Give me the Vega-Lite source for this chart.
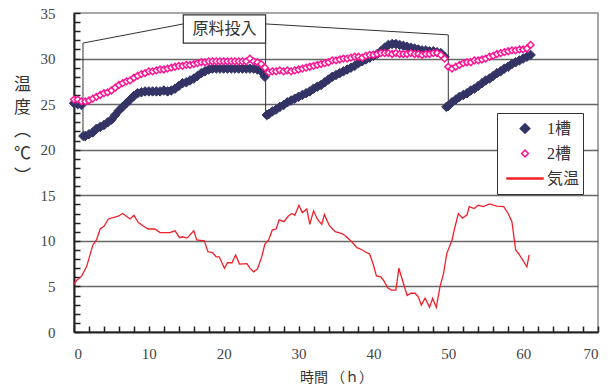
{
  "$schema": "https://vega.github.io/schema/vega-lite/v6.json",
  "width": 524,
  "height": 319,
  "autosize": {"type": "none"},
  "padding": {"left": 74, "top": 13, "right": 15, "bottom": 59},
  "background": "white",
  "config": {
    "view": {"stroke": "#8a8a8a", "strokeWidth": 1.5},
    "axis": {
      "domainColor": "#222",
      "domainWidth": 2,
      "tickColor": "#222",
      "tickWidth": 1.5,
      "labelFont": "Liberation Serif",
      "labelFontSize": 15,
      "labelColor": "#444",
      "titleFont": "Noto Sans CJK JP",
      "titleFontWeight": "normal",
      "titleColor": "#333"
    }
  },
  "datasets": {
    "temps": [
      {"s":"1槽","t":0,"v":25.1},{"s":"1槽","t":0.5,"v":25.0},{"s":"1槽","t":1,"v":24.9},{"s":"1槽","t":1.25,"v":21.5},{"s":"1槽","t":1.5,"v":21.5},
      {"s":"1槽","t":2,"v":21.7},{"s":"1槽","t":2.5,"v":21.9},{"s":"1槽","t":3,"v":22.3},{"s":"1槽","t":3.5,"v":22.5},{"s":"1槽","t":4,"v":22.7},
      {"s":"1槽","t":4.5,"v":23.0},{"s":"1槽","t":5,"v":23.3},{"s":"1槽","t":5.5,"v":23.8},{"s":"1槽","t":6,"v":24.3},{"s":"1槽","t":6.5,"v":24.7},
      {"s":"1槽","t":7,"v":25.1},{"s":"1槽","t":7.5,"v":25.5},{"s":"1槽","t":8,"v":25.9},{"s":"1槽","t":8.5,"v":26.2},{"s":"1槽","t":9,"v":26.3},
      {"s":"1槽","t":9.5,"v":26.4},{"s":"1槽","t":10,"v":26.4},{"s":"1槽","t":10.5,"v":26.4},{"s":"1槽","t":11,"v":26.4},{"s":"1槽","t":11.5,"v":26.4},
      {"s":"1槽","t":12,"v":26.5},{"s":"1槽","t":12.5,"v":26.4},{"s":"1槽","t":13,"v":26.5},{"s":"1槽","t":13.5,"v":26.7},{"s":"1槽","t":14,"v":27.0},
      {"s":"1槽","t":14.5,"v":27.3},{"s":"1槽","t":15,"v":27.4},{"s":"1槽","t":15.5,"v":27.6},{"s":"1槽","t":16,"v":27.8},{"s":"1槽","t":16.5,"v":28.1},
      {"s":"1槽","t":17,"v":28.4},{"s":"1槽","t":17.5,"v":28.6},{"s":"1槽","t":18,"v":28.8},{"s":"1槽","t":18.5,"v":28.9},{"s":"1槽","t":19,"v":28.9},
      {"s":"1槽","t":19.5,"v":28.9},{"s":"1槽","t":20,"v":28.9},{"s":"1槽","t":20.5,"v":28.9},{"s":"1槽","t":21,"v":28.9},{"s":"1槽","t":21.5,"v":28.9},
      {"s":"1槽","t":22,"v":28.9},{"s":"1槽","t":22.5,"v":28.9},{"s":"1槽","t":23,"v":28.9},{"s":"1槽","t":23.5,"v":28.9},{"s":"1槽","t":24,"v":28.9},
      {"s":"1槽","t":24.5,"v":28.8},{"s":"1槽","t":25,"v":28.6},{"s":"1槽","t":25.5,"v":28.0},{"s":"1槽","t":25.75,"v":23.8},{"s":"1槽","t":26,"v":23.9},
      {"s":"1槽","t":26.5,"v":24.2},{"s":"1槽","t":27,"v":24.4},{"s":"1槽","t":27.5,"v":24.7},{"s":"1槽","t":28,"v":24.9},{"s":"1槽","t":28.5,"v":25.2},
      {"s":"1槽","t":29,"v":25.4},{"s":"1槽","t":29.5,"v":25.6},{"s":"1槽","t":30,"v":25.8},{"s":"1槽","t":30.5,"v":26.0},{"s":"1槽","t":31,"v":26.2},
      {"s":"1槽","t":31.5,"v":26.4},{"s":"1槽","t":32,"v":26.7},{"s":"1槽","t":32.5,"v":26.9},{"s":"1槽","t":33,"v":27.1},{"s":"1槽","t":33.5,"v":27.4},
      {"s":"1槽","t":34,"v":27.7},{"s":"1槽","t":34.5,"v":28.0},{"s":"1槽","t":35,"v":28.2},{"s":"1槽","t":35.5,"v":28.4},{"s":"1槽","t":36,"v":28.6},
      {"s":"1槽","t":36.5,"v":28.8},{"s":"1槽","t":37,"v":29.0},{"s":"1槽","t":37.5,"v":29.2},{"s":"1槽","t":38,"v":29.5},{"s":"1槽","t":38.5,"v":29.7},
      {"s":"1槽","t":39,"v":29.9},{"s":"1槽","t":39.5,"v":30.1},{"s":"1槽","t":40,"v":30.3},{"s":"1槽","t":40.5,"v":30.5},{"s":"1槽","t":41,"v":30.8},
      {"s":"1槽","t":41.5,"v":31.2},{"s":"1槽","t":42,"v":31.5},{"s":"1槽","t":42.5,"v":31.6},{"s":"1槽","t":43,"v":31.6},{"s":"1槽","t":43.5,"v":31.5},
      {"s":"1槽","t":44,"v":31.4},{"s":"1槽","t":44.5,"v":31.3},{"s":"1槽","t":45,"v":31.2},{"s":"1槽","t":45.5,"v":31.1},{"s":"1槽","t":46,"v":31.0},
      {"s":"1槽","t":46.5,"v":30.9},{"s":"1槽","t":47,"v":30.9},{"s":"1槽","t":47.5,"v":30.8},{"s":"1槽","t":48,"v":30.8},{"s":"1槽","t":48.5,"v":30.7},
      {"s":"1槽","t":49,"v":30.6},{"s":"1槽","t":49.5,"v":30.2},{"s":"1槽","t":49.75,"v":24.7},{"s":"1槽","t":50,"v":24.8},{"s":"1槽","t":50.5,"v":25.2},
      {"s":"1槽","t":51,"v":25.5},{"s":"1槽","t":51.5,"v":25.8},{"s":"1槽","t":52,"v":26.0},{"s":"1槽","t":52.5,"v":26.2},{"s":"1槽","t":53,"v":26.5},
      {"s":"1槽","t":53.5,"v":26.7},{"s":"1槽","t":54,"v":27.0},{"s":"1槽","t":54.5,"v":27.3},{"s":"1槽","t":55,"v":27.6},{"s":"1槽","t":55.5,"v":27.8},
      {"s":"1槽","t":56,"v":28.1},{"s":"1槽","t":56.5,"v":28.4},{"s":"1槽","t":57,"v":28.6},{"s":"1槽","t":57.5,"v":28.9},{"s":"1槽","t":58,"v":29.1},
      {"s":"1槽","t":58.5,"v":29.4},{"s":"1槽","t":59,"v":29.6},{"s":"1槽","t":59.5,"v":29.8},{"s":"1槽","t":60,"v":30.0},{"s":"1槽","t":60.5,"v":30.2},
      {"s":"1槽","t":61,"v":30.4},
      {"s":"2槽","t":0,"v":25.5},{"s":"2槽","t":0.5,"v":25.5},{"s":"2槽","t":1,"v":25.3},{"s":"2槽","t":1.5,"v":25.3},{"s":"2槽","t":2,"v":25.4},
      {"s":"2槽","t":2.5,"v":25.6},{"s":"2槽","t":3,"v":25.8},{"s":"2槽","t":3.5,"v":26.0},{"s":"2槽","t":4,"v":26.2},{"s":"2槽","t":4.5,"v":26.3},
      {"s":"2槽","t":5,"v":26.5},{"s":"2槽","t":5.5,"v":26.8},{"s":"2槽","t":6,"v":27.1},{"s":"2槽","t":6.5,"v":27.3},{"s":"2槽","t":7,"v":27.5},
      {"s":"2槽","t":7.5,"v":27.6},{"s":"2槽","t":8,"v":27.9},{"s":"2槽","t":8.5,"v":28.1},{"s":"2槽","t":9,"v":28.3},{"s":"2槽","t":9.5,"v":28.4},
      {"s":"2槽","t":10,"v":28.6},{"s":"2槽","t":10.5,"v":28.6},{"s":"2槽","t":11,"v":28.7},{"s":"2槽","t":11.5,"v":28.8},{"s":"2槽","t":12,"v":28.8},
      {"s":"2槽","t":12.5,"v":28.9},{"s":"2槽","t":13,"v":29.0},{"s":"2槽","t":13.5,"v":29.1},{"s":"2槽","t":14,"v":29.2},{"s":"2槽","t":14.5,"v":29.2},
      {"s":"2槽","t":15,"v":29.3},{"s":"2槽","t":15.5,"v":29.3},{"s":"2槽","t":16,"v":29.4},{"s":"2槽","t":16.5,"v":29.5},{"s":"2槽","t":17,"v":29.6},
      {"s":"2槽","t":17.5,"v":29.6},{"s":"2槽","t":18,"v":29.7},{"s":"2槽","t":18.5,"v":29.7},{"s":"2槽","t":19,"v":29.7},{"s":"2槽","t":19.5,"v":29.7},
      {"s":"2槽","t":20,"v":29.7},{"s":"2槽","t":20.5,"v":29.7},{"s":"2槽","t":21,"v":29.7},{"s":"2槽","t":21.5,"v":29.7},{"s":"2槽","t":22,"v":29.7},
      {"s":"2槽","t":22.5,"v":29.7},{"s":"2槽","t":23,"v":29.7},{"s":"2槽","t":23.5,"v":30.0},{"s":"2槽","t":24,"v":29.7},{"s":"2槽","t":24.5,"v":29.6},
      {"s":"2槽","t":25,"v":29.4},{"s":"2槽","t":25.5,"v":29.0},{"s":"2槽","t":26,"v":28.5},{"s":"2槽","t":26.5,"v":28.6},{"s":"2槽","t":27,"v":28.6},
      {"s":"2槽","t":27.5,"v":28.7},{"s":"2槽","t":28,"v":28.6},{"s":"2槽","t":28.5,"v":28.7},{"s":"2槽","t":29,"v":28.6},{"s":"2槽","t":29.5,"v":28.7},
      {"s":"2槽","t":30,"v":28.8},{"s":"2槽","t":30.5,"v":28.9},{"s":"2槽","t":31,"v":29.0},{"s":"2槽","t":31.5,"v":29.1},{"s":"2槽","t":32,"v":29.2},
      {"s":"2槽","t":32.5,"v":29.3},{"s":"2槽","t":33,"v":29.4},{"s":"2槽","t":33.5,"v":29.5},{"s":"2槽","t":34,"v":29.6},{"s":"2槽","t":34.5,"v":29.8},
      {"s":"2槽","t":35,"v":29.8},{"s":"2槽","t":35.5,"v":29.9},{"s":"2槽","t":36,"v":30.0},{"s":"2槽","t":36.5,"v":30.0},{"s":"2槽","t":37,"v":30.1},
      {"s":"2槽","t":37.5,"v":30.2},{"s":"2槽","t":38,"v":30.2},{"s":"2槽","t":38.5,"v":30.1},{"s":"2槽","t":39,"v":30.3},{"s":"2槽","t":39.5,"v":30.4},
      {"s":"2槽","t":40,"v":30.4},{"s":"2槽","t":40.5,"v":30.5},{"s":"2槽","t":41,"v":30.6},{"s":"2槽","t":41.5,"v":30.6},{"s":"2槽","t":42,"v":30.6},
      {"s":"2槽","t":42.5,"v":30.5},{"s":"2槽","t":43,"v":30.6},{"s":"2槽","t":43.5,"v":30.5},{"s":"2槽","t":44,"v":30.5},{"s":"2槽","t":44.5,"v":30.5},
      {"s":"2槽","t":45,"v":30.6},{"s":"2槽","t":45.5,"v":30.5},{"s":"2槽","t":46,"v":30.5},{"s":"2槽","t":46.5,"v":30.4},{"s":"2槽","t":47,"v":30.5},
      {"s":"2槽","t":47.5,"v":30.5},{"s":"2槽","t":48,"v":30.6},{"s":"2槽","t":48.5,"v":30.6},{"s":"2槽","t":49,"v":30.4},{"s":"2槽","t":49.5,"v":30.0},
      {"s":"2槽","t":50,"v":29.1},{"s":"2槽","t":50.5,"v":28.9},{"s":"2槽","t":51,"v":29.1},{"s":"2槽","t":51.5,"v":29.3},{"s":"2槽","t":52,"v":29.5},
      {"s":"2槽","t":52.5,"v":29.6},{"s":"2槽","t":53,"v":29.6},{"s":"2槽","t":53.5,"v":29.8},{"s":"2槽","t":54,"v":29.8},{"s":"2槽","t":54.5,"v":29.9},
      {"s":"2槽","t":55,"v":30.0},{"s":"2槽","t":55.5,"v":30.2},{"s":"2槽","t":56,"v":30.3},{"s":"2槽","t":56.5,"v":30.5},{"s":"2槽","t":57,"v":30.6},
      {"s":"2槽","t":57.5,"v":30.7},{"s":"2槽","t":58,"v":30.8},{"s":"2槽","t":58.5,"v":30.9},{"s":"2槽","t":59,"v":30.9},{"s":"2槽","t":59.5,"v":31.0},
      {"s":"2槽","t":60,"v":31.0},{"s":"2槽","t":60.5,"v":31.1},{"s":"2槽","t":61,"v":31.5},
      {"s":"気温","t":0,"v":5.3},{"s":"気温","t":0.4,"v":5.7},{"s":"気温","t":1.0,"v":6.1},{"s":"気温","t":1.7,"v":7.2},{"s":"気温","t":2.5,"v":9.5},
      {"s":"気温","t":3.0,"v":10.1},{"s":"気温","t":3.5,"v":11.3},{"s":"気温","t":4.0,"v":11.6},{"s":"気温","t":4.6,"v":12.4},{"s":"気温","t":5.9,"v":12.7},
      {"s":"気温","t":6.5,"v":13.0},{"s":"気温","t":7.5,"v":12.4},{"s":"気温","t":8.0,"v":12.8},{"s":"気温","t":8.6,"v":12.0},{"s":"気温","t":9.3,"v":11.6},
      {"s":"気温","t":9.9,"v":11.3},{"s":"気温","t":10.8,"v":11.3},{"s":"気温","t":11.5,"v":10.9},{"s":"気温","t":12.8,"v":10.9},{"s":"気温","t":13.5,"v":11.1},
      {"s":"気温","t":14.1,"v":10.35},{"s":"気温","t":14.5,"v":10.45},{"s":"気温","t":15.1,"v":10.3},{"s":"気温","t":16.0,"v":11.1},{"s":"気温","t":16.4,"v":10.1},
      {"s":"気温","t":17.4,"v":10.0},{"s":"気温","t":17.9,"v":8.8},{"s":"気温","t":18.5,"v":8.7},{"s":"気温","t":19.0,"v":8.25},{"s":"気温","t":19.4,"v":8.25},
      {"s":"気温","t":20.1,"v":7.0},{"s":"気温","t":20.5,"v":7.6},{"s":"気温","t":21.1,"v":7.6},{"s":"気温","t":21.6,"v":8.45},{"s":"気温","t":22.1,"v":7.45},
      {"s":"気温","t":23.1,"v":7.5},{"s":"気温","t":23.5,"v":7.0},{"s":"気温","t":24.0,"v":6.6},{"s":"気温","t":24.5,"v":6.9},{"s":"気温","t":25.1,"v":8.3},
      {"s":"気温","t":25.5,"v":9.65},{"s":"気温","t":26.0,"v":10.1},{"s":"気温","t":26.5,"v":11.2},{"s":"気温","t":27.0,"v":11.3},{"s":"気温","t":27.4,"v":12.3},
      {"s":"気温","t":28.05,"v":12.1},{"s":"気温","t":28.6,"v":12.7},{"s":"気温","t":29.1,"v":13.0},{"s":"気温","t":29.5,"v":12.8},{"s":"気温","t":30.05,"v":13.9},
      {"s":"気温","t":30.5,"v":13.1},{"s":"気温","t":31.1,"v":13.5},{"s":"気温","t":31.5,"v":11.8},{"s":"気温","t":32.0,"v":13.3},{"s":"気温","t":32.5,"v":12.4},
      {"s":"気温","t":33.1,"v":11.8},{"s":"気温","t":33.45,"v":12.9},{"s":"気温","t":34.1,"v":11.7},{"s":"気温","t":34.9,"v":11.0},{"s":"気温","t":35.8,"v":10.8},
      {"s":"気温","t":36.4,"v":10.45},{"s":"気温","t":37.1,"v":9.9},{"s":"気温","t":37.8,"v":9.25},{"s":"気温","t":38.4,"v":9.05},{"s":"気温","t":39.0,"v":8.75},
      {"s":"気温","t":39.5,"v":8.55},{"s":"気温","t":40.0,"v":7.35},{"s":"気温","t":40.4,"v":6.15},{"s":"気温","t":41.0,"v":6.05},{"s":"気温","t":41.4,"v":5.6},
      {"s":"気温","t":41.9,"v":4.85},{"s":"気温","t":42.4,"v":4.6},{"s":"気温","t":43.0,"v":4.6},{"s":"気温","t":43.4,"v":7.0},{"s":"気温","t":44.0,"v":5.35},
      {"s":"気温","t":44.5,"v":4.0},{"s":"気温","t":45.0,"v":4.25},{"s":"気温","t":45.55,"v":4.25},{"s":"気温","t":46.0,"v":3.85},{"s":"気温","t":46.4,"v":2.95},
      {"s":"気温","t":46.9,"v":3.7},{"s":"気温","t":47.5,"v":2.7},{"s":"気温","t":47.9,"v":3.7},{"s":"気温","t":48.4,"v":2.7},{"s":"気温","t":48.9,"v":5.0},
      {"s":"気温","t":49.35,"v":6.35},{"s":"気温","t":49.8,"v":8.6},{"s":"気温","t":50.5,"v":10.1},{"s":"気温","t":50.9,"v":11.55},{"s":"気温","t":51.35,"v":13.0},
      {"s":"気温","t":51.9,"v":12.5},{"s":"気温","t":52.5,"v":12.85},{"s":"気温","t":52.8,"v":13.75},{"s":"気温","t":53.45,"v":13.55},{"s":"気温","t":54.0,"v":13.9},
      {"s":"気温","t":54.7,"v":13.75},{"s":"気温","t":55.5,"v":14.05},{"s":"気温","t":56.5,"v":13.8},{"s":"気温","t":57.4,"v":13.75},{"s":"気温","t":58.0,"v":13.0},
      {"s":"気温","t":58.5,"v":12.1},{"s":"気温","t":59.0,"v":9.0},{"s":"気温","t":59.4,"v":8.6},{"s":"気温","t":60.5,"v":7.15},{"s":"気温","t":60.8,"v":8.45}
    ],
    "guide": [
      {"g":"a","o":1,"t":1.2,"v":21.4},{"g":"a","o":2,"t":1.2,"v":31.7},{"g":"a","o":3,"t":14.6,"v":33.8},
      {"g":"b","o":1,"t":25.6,"v":33.8},{"g":"b","o":2,"t":50.0,"v":32.6},{"g":"b","o":3,"t":50.0,"v":24.6},
      {"g":"c","o":1,"t":25.6,"v":31.7},{"g":"c","o":2,"t":25.6,"v":23.6}
    ],
    "box": [{"t":14.6,"t2":25.6,"v":31.7,"v2":34.8,"mt":20.1,"mv":33.25,"label":"原料投入"}]
  },
  "layer": [
    {
      "data": {"name": "temps"},
      "transform": [{"filter": "datum.s == '気温'"}],
      "mark": {"type": "line", "strokeWidth": 1.3},
      "encoding": {
        "x": {"field": "t", "type": "quantitative", "scale": {"domain": [0, 70], "nice": false},
              "axis": {"values": [0,2,4,6,8,10,12,14,16,18,20,22,24,26,28,30,32,34,36,38,40,42,44,46,48,50,52,54,56,58,60,62,64,66,68,70],
                       "tickCount": 200, "tickSize": -6, "labelOverlap": false, "format": "d",
                       "labelExpr": "datum.value % 10 == 0 ? datum.label : ''", "grid": false, "labelPadding": 20,
                       "title": "時間 （ｈ）", "titleFontSize": 14, "titlePadding": 9}},
        "y": {"field": "v", "type": "quantitative", "scale": {"domain": [0, 35], "nice": false},
              "axis": {"values": [0,1,2,3,4,5,6,7,8,9,10,11,12,13,14,15,16,17,18,19,20,21,22,23,24,25,26,27,28,29,30,31,32,33,34,35],
                       "tickCount": 200, "tickSize": -6, "labelOverlap": false, "format": "d",
                       "labelExpr": "datum.value % 5 == 0 ? datum.label : ''", "labelPadding": 25,
                       "grid": true, "gridColor": "#666", "gridWidth": 1.3,
                       "gridOpacity": {"condition": {"test": "datum.value % 5 == 0 && datum.value > 0 && datum.value < 35", "value": 1}, "value": 0},
                       "title": ["温", "度", "︵", "℃", "︶"], "titleAngle": 0, "titleAlign": "center", "titleBaseline": "top",
                       "titleX": -52, "titleY": 63, "titleFontSize": 17, "titleLineHeight": 23}},
        "stroke": {"field": "s", "type": "nominal",
                   "scale": {"domain": ["1槽", "2槽", "気温"], "range": ["#333366", "#ff1493", "#f0202a"]},
                   "legend": {"title": null, "orient": "none", "legendX": 423, "legendY": 100,
                              "fillColor": "white", "strokeColor": "#333", "padding": 3, "clipHeight": 25,
                              "symbolSize": 1400, "symbolStrokeWidth": 1.5, "rowPadding": 0, "symbolOffset": 17,
                              "labelFont": "Liberation Serif, Noto Sans CJK JP", "labelFontSize": 16, "labelColor": "#333", "labelOffset": 14,
                              "labelExpr": "datum.label + '\u3000     '",
                              "encoding": {"symbols": {"size": {"value": {"expr": "datum.value == '気温' ? 1400 : (datum.value == '1槽' ? 90 : 45)"}},
                                                        "strokeWidth": {"value": {"expr": "datum.value == '気温' ? 2.5 : 1.5"}}}}}}
      }
    },
    {
      "data": {"name": "guide"},
      "mark": {"type": "line", "color": "#333", "strokeWidth": 1},
      "encoding": {
        "x": {"field": "t", "type": "quantitative"},
        "y": {"field": "v", "type": "quantitative"},
        "detail": {"field": "g", "type": "nominal"},
        "order": {"field": "o", "type": "quantitative"}
      }
    },
    {
      "data": {"name": "temps"},
      "transform": [{"filter": "datum.s == '1槽'"}],
      "mark": {"type": "point", "size": 90, "strokeWidth": 1, "opacity": 1},
      "encoding": {
        "x": {"field": "t", "type": "quantitative"},
        "y": {"field": "v", "type": "quantitative"},
        "stroke": {"field": "s", "type": "nominal",
                   "scale": {"domain": ["1槽", "2槽", "気温"], "range": ["#333366", "#ff1493", "#f0202a"]},
                   "legend": {"title": null, "orient": "none", "legendX": 423, "legendY": 100,
                              "fillColor": "white", "strokeColor": "#333", "padding": 3, "clipHeight": 25,
                              "symbolSize": 1400, "symbolStrokeWidth": 1.5, "rowPadding": 0, "symbolOffset": 17,
                              "labelFont": "Liberation Serif, Noto Sans CJK JP", "labelFontSize": 16, "labelColor": "#333", "labelOffset": 14,
                              "labelExpr": "datum.label + '\u3000     '",
                              "encoding": {"symbols": {"size": {"value": {"expr": "datum.value == '気温' ? 1400 : (datum.value == '1槽' ? 90 : 45)"}},
                                                        "strokeWidth": {"value": {"expr": "datum.value == '気温' ? 2.5 : 1.5"}}}}}},
        "fill": {"field": "s", "type": "nominal",
                 "scale": {"domain": ["1槽", "2槽", "気温"], "range": ["#333366", "#ffffff", "#f0202a"]}},
        "shape": {"field": "s", "type": "nominal",
                  "scale": {"domain": ["1槽", "2槽", "気温"], "range": ["diamond", "diamond", "stroke"]}}
      }
    },
    {
      "data": {"name": "temps"},
      "transform": [{"filter": "datum.s == '2槽'"}],
      "mark": {"type": "point", "size": 45, "strokeWidth": 1.5, "opacity": 1},
      "encoding": {
        "x": {"field": "t", "type": "quantitative"},
        "y": {"field": "v", "type": "quantitative"},
        "stroke": {"field": "s", "type": "nominal",
                   "scale": {"domain": ["1槽", "2槽", "気温"], "range": ["#333366", "#ff1493", "#f0202a"]}},
        "fill": {"field": "s", "type": "nominal",
                 "scale": {"domain": ["1槽", "2槽", "気温"], "range": ["#333366", "#ffffff", "#f0202a"]}},
        "shape": {"field": "s", "type": "nominal",
                  "scale": {"domain": ["1槽", "2槽", "気温"], "range": ["diamond", "diamond", "stroke"]}}
      }
    },
    {
      "data": {"name": "box"},
      "mark": {"type": "rect", "fill": "white", "stroke": "#333", "strokeWidth": 1.2},
      "encoding": {
        "x": {"field": "t", "type": "quantitative"},
        "x2": {"field": "t2"},
        "y": {"field": "v", "type": "quantitative"},
        "y2": {"field": "v2"}
      }
    },
    {
      "data": {"name": "box"},
      "mark": {"type": "text", "font": "Noto Sans CJK JP", "fontSize": 16, "color": "#333", "align": "center", "baseline": "middle"},
      "encoding": {
        "x": {"field": "mt", "type": "quantitative"},
        "y": {"field": "mv", "type": "quantitative"},
        "text": {"field": "label"}
      }
    }
  ]
}
